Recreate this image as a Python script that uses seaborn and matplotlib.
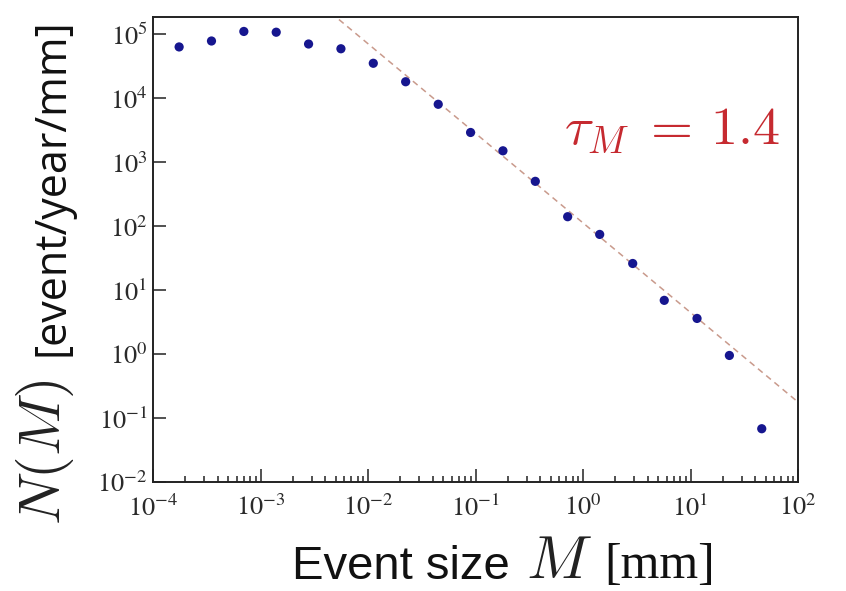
import matplotlib
matplotlib.use("Agg")
import matplotlib.pyplot as plt
import matplotlib.ticker as mticker
import numpy as np
import pandas as pd
import seaborn as sns

# ---- data ----
event_size = [1.75e-4, 3.5e-4, 7.0e-4, 1.4e-3, 2.8e-3, 5.6e-3, 1.12e-2, 2.24e-2,
              4.5e-2, 9.0e-2, 0.18, 0.36, 0.72, 1.43, 2.9, 5.7, 11.5, 23.0, 46.0]
event_rate = [6.3e4, 7.8e4, 1.1e5, 1.07e5, 7.0e4, 5.9e4, 3.5e4, 1.8e4,
              8.0e3, 2.9e3, 1.5e3, 5.0e2, 1.4e2, 74.0, 26.0, 6.9, 3.6, 0.95, 0.068]
tau_M = 1.4
fit_amplitude = 112.0
fit_range = [1e-3, 1e2]
x_ticks = [1e-4, 1e-3, 1e-2, 1e-1, 1e0, 1e1, 1e2]
y_ticks = [1e-2, 1e-1, 1e0, 1e1, 1e2, 1e3, 1e4, 1e5]

df = pd.DataFrame({"M": event_size, "N": event_rate})
fit_df = pd.DataFrame({"M": fit_range,
                       "N": [fit_amplitude * m ** (-tau_M) for m in fit_range]})

sns.set_style("ticks")
plt.rcParams["font.family"] = ["Liberation Serif", "DejaVu Sans"]
plt.rcParams["mathtext.fontset"] = "stix"

W, H = 846, 591
fig = plt.figure(figsize=(W / 100, H / 100), dpi=100)
L, R, T, B = 153, 798, 17, 482
ax = fig.add_axes([L / W, 1 - B / H, (R - L) / W, (B - T) / H])

sns.lineplot(data=fit_df, x="M", y="N", ax=ax, color="#c99a8c", lw=1.1,
             linestyle=(0, (4, 3)), zorder=1)
sns.scatterplot(data=df, x="M", y="N", ax=ax, color="#16168f", s=44,
                edgecolor="none", zorder=3)

ax.set_xscale("log")
ax.set_yscale("log")
ax.set_xlim(1e-4, 1e2)
ax.set_ylim(1e-2, 1.85e5)
ax.set_xlabel("")
ax.set_ylabel("")

ax.xaxis.set_major_locator(mticker.FixedLocator(x_ticks))
ax.yaxis.set_major_locator(mticker.FixedLocator(y_ticks))
ax.xaxis.set_minor_locator(mticker.LogLocator(base=10, subs=np.arange(2, 10)))
ax.yaxis.set_minor_locator(mticker.NullLocator())
fmt = mticker.FuncFormatter(lambda v, p: r"$10^{%d}$" % int(round(np.log10(v))))
ax.xaxis.set_major_formatter(fmt)
ax.yaxis.set_major_formatter(fmt)

ax.tick_params(which="both", direction="in", top=False, right=False,
               colors="#222222", width=1.1)
ax.tick_params(which="major", length=9.5, labelsize=19, labelcolor="#2a2a2a")
ax.tick_params(which="minor", length=4.5)
ax.tick_params(axis="x", which="major", pad=9)
ax.tick_params(axis="y", which="major", pad=4)
for sp in ax.spines.values():
    sp.set_visible(True)
    sp.set_color("#222222")
    sp.set_linewidth(1.4)

# annotation
ax.text((564 - L) / (R - L), (B - 145) / (B - T), r"$\tau_M\;=\,1.4$",
        transform=ax.transAxes, ha="left", va="baseline", fontsize=39,
        color="#c62a30", math_fontfamily="cm")

# x label pieces
def fx(px):
    return px / W

def fy(py):
    return 1 - py / H

fig.text(fx(292), fy(579), "Event size", family="Liberation Sans", fontsize=34,
         ha="left", va="baseline", color="#111111")
fig.text(fx(526), fy(578), r"$M$", fontsize=44, math_fontfamily="cm",
         ha="left", va="baseline", color="#222222")
fig.text(fx(604), fy(578), "[mm]", family="Liberation Serif", fontsize=36,
         ha="left", va="baseline", color="#111111")

# y label pieces
fig.text(fx(60), fy(525), r"$N(M)$", fontsize=42, math_fontfamily="cm",
         rotation=90, rotation_mode="anchor", ha="left", va="baseline",
         color="#222222")
fig.text(fx(64), fy(356), "[event/year/mm]", family="Open Sans", fontsize=31,
         rotation=90, rotation_mode="anchor", ha="left", va="baseline",
         color="#111111")

fig.savefig("out.png", dpi=100, facecolor="white")
